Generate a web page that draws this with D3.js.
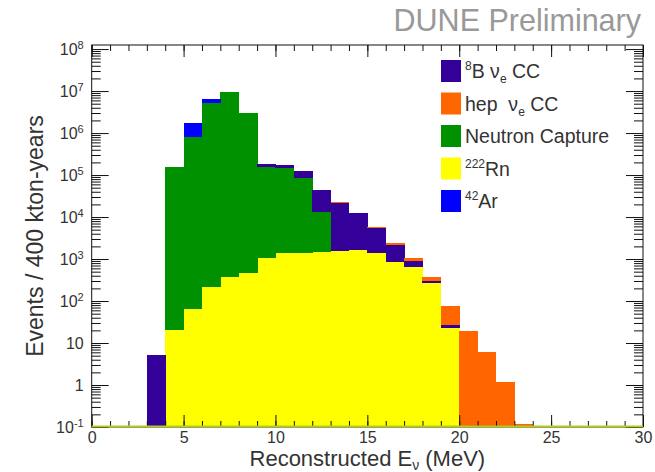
<!DOCTYPE html>
<html>
<head>
<meta charset="utf-8">
<script src="https://cdn.jsdelivr.net/npm/d3@7"></script>
<style>
  body { margin: 0; background: #fff; }
  svg { display: block; font-family: "Liberation Sans", Arial, Helvetica, sans-serif; }
</style>
</head>
<body>
<div id="chart"></div>
<script>
// lower edge of every 1 MeV bin
const binLow = [0,1,2,3,4,5,6,7,8,9,10,11,12,13,14,15,16,17,18,19,20,21,22,23,24,25,26,27,28,29];

// events / 400 kton-years per bin
const rn222   = [0,0,0,0,20,64,215,380,465,1060,1390,1430,1470,1550,1640,1370,860,630,265,23,0,0,0,0,0,0,0,0,0,0];
const neutron = [0,0,0,0,152000,790000,5100000,9300000,2940000,151000,143000,85000,11900,0,0,0,0,0,0,0,0,0,0,0,0,0,0,0,0,0];
const ar42    = [0,0,0,0,0,910000,1200000,0,0,0,0,0,0,0,0,0,0,0,0,0,0,0,0,0,0,0,0,0,0,0];
const b8      = [0,0,0,5.2,0,0,0,0,0,31000,32000,41000,30600,20500,10800,4050,1290,278,40,4.2,0,0,0,0,0,0,0,0,0,0];
const hep     = [0,0,0,0,0,0,0,0,0,0,0,0,0,150,200,250,220,128,75,47,19.6,6.2,1.2,0.115,0,0,0,0,0,0];

const xTicks = [0,5,10,15,20,25,30];
const yTicks = [0.1,1,10,100,1e3,1e4,1e5,1e6,1e7,1e8];

const W = 655, H = 472;
const pLeft = 91.7, pRight = 643, pTop = 45, pBottom = 427;

const svg = d3.select("#chart").append("svg")
  .attr("width", W).attr("height", H);

const x = d3.scaleLinear().domain([0, 30]).range([pLeft, pRight]);
const y = d3.scaleLog().domain([0.1, 1.25e8]).range([pBottom, pTop]);

// stack order: bottom to top
const keys = ["rn", "nc", "ar", "b8", "hep"];
const colors = { rn: "#ffff00", nc: "#009100", ar: "#0000ff", b8: "#330099", hep: "#ff6600" };

const rows = binLow.map((b, i) => ({
  bin: b, rn: rn222[i], nc: neutron[i], ar: ar42[i], b8: b8[i], hep: hep[i]
}));
const series = d3.stack().keys(keys)(rows);

svg.append("g").selectAll("g")
  .data(series)
  .join("g")
  .attr("fill", d => colors[d.key])
  .attr("shape-rendering", "crispEdges")
  .selectAll("rect")
  .data(d => d.filter(s => s[1] > s[0] && s[1] > 0.1))
  .join("rect")
  .attr("x", d => x(d.data.bin))
  .attr("width", d => x(d.data.bin + 1) - x(d.data.bin) + 0.5)
  .attr("y", d => y(d[1]))
  .attr("height", d => y(Math.max(d[0], 0.1)) - y(d[1]));

// minor ticks for the log axis
const yMinor = [];
yTicks.slice(0, -1).forEach(t => { for (let k = 2; k <= 9; k++) yMinor.push(t * k); });
const xMinor = d3.range(0, 31);

function clean(g) {
  g.select(".domain").remove();
  g.selectAll("line").attr("stroke", "#111");
}

// bottom axis
svg.append("g").attr("transform", `translate(0,${pBottom})`)
  .call(d3.axisBottom(x).tickValues(xMinor).tickSize(-6).tickFormat(""))
  .call(clean);
const xAx = svg.append("g").attr("transform", `translate(0,${pBottom})`)
  .call(d3.axisBottom(x).tickValues(xTicks).tickSize(-12).tickPadding(5).tickFormat(d3.format("d")))
  .call(clean);
xAx.selectAll("text").attr("font-size", 16).attr("fill", "#333").attr("dy", "0.71em")
  .attr("font-family", "Liberation Sans, Arial, sans-serif");

// top axis
svg.append("g").attr("transform", `translate(0,${pTop})`)
  .call(d3.axisTop(x).tickValues(xMinor).tickSize(-6).tickFormat(""))
  .call(clean);
svg.append("g").attr("transform", `translate(0,${pTop})`)
  .call(d3.axisTop(x).tickValues(xTicks).tickSize(-12).tickFormat(""))
  .call(clean);

// left axis
svg.append("g").attr("transform", `translate(${pLeft},0)`)
  .call(d3.axisLeft(y).tickValues(yMinor).tickSize(-9).tickFormat(""))
  .call(clean);
const yAx = svg.append("g").attr("transform", `translate(${pLeft},0)`)
  .call(d3.axisLeft(y).tickValues(yTicks).tickSize(-17).tickFormat(""))
  .call(clean);

yAx.selectAll(".tick").each(function(d) {
  const e = Math.round(Math.log10(d));
  const t = d3.select(this).select("text")
    .attr("x", -8).attr("dy", "0.35em").attr("text-anchor", "end")
    .attr("font-size", 16).attr("fill", "#333").text(null);
  if (e === 0) t.text("1");
  else if (e === 1) t.text("10");
  else {
    t.append("tspan").text("10");
    t.append("tspan").attr("dy", "-0.55em").attr("font-size", 11).text(e);
  }
});

// right axis
svg.append("g").attr("transform", `translate(${pRight},0)`)
  .call(d3.axisRight(y).tickValues(yMinor).tickSize(-9).tickFormat(""))
  .call(clean);
svg.append("g").attr("transform", `translate(${pRight},0)`)
  .call(d3.axisRight(y).tickValues(yTicks).tickSize(-17).tickFormat(""))
  .call(clean);

// frame
svg.append("rect")
  .attr("x", pLeft).attr("y", pTop)
  .attr("width", pRight - pLeft).attr("height", pBottom - pTop)
  .attr("fill", "none").attr("stroke", "#111").attr("stroke-width", 1);

// empty-bin outline along the floor
svg.append("line")
  .attr("x1", x(0)).attr("x2", x(30))
  .attr("y1", pBottom - 0.5).attr("y2", pBottom - 0.5)
  .attr("stroke", "#b4cc1e").attr("stroke-width", 2);

// axis titles
const xt = svg.append("text")
  .attr("x", (pLeft + pRight) / 2).attr("y", 466)
  .attr("text-anchor", "middle").attr("font-size", 22).attr("fill", "#333");
xt.append("tspan").text("Reconstructed E");
xt.append("tspan").attr("dy", 4).attr("font-size", 14).text("ν");
xt.append("tspan").attr("dy", -4).text(" (MeV)");

svg.append("text")
  .attr("transform", `translate(43,${(pTop + pBottom) / 2}) rotate(-90)`)
  .attr("text-anchor", "middle").attr("font-size", 23).attr("fill", "#333")
  .text("Events / 400 kton-years");

svg.append("text")
  .attr("x", 641).attr("y", 31)
  .attr("text-anchor", "end").attr("font-size", 30.5).attr("fill", "#999")
  .text("DUNE Preliminary");

// legend
const legendItems = [
  { key: "b8",  parts: [["8", "sup"], ["B ν"], ["e", "sub"], [" CC"]] },
  { key: "hep", parts: [["hep  ν"], ["e", "sub"], [" CC"]] },
  { key: "nc",  parts: [["Neutron Capture"]] },
  { key: "rn",  parts: [["222", "sup"], ["Rn"]] },
  { key: "ar",  parts: [["42", "sup"], ["Ar"]] }
];

const leg = svg.append("g").selectAll("g")
  .data(legendItems)
  .join("g")
  .attr("transform", (d, i) => `translate(441,${60 + i * 32.5})`);

leg.append("rect")
  .attr("width", 20).attr("height", 22)
  .attr("fill", d => colors[d.key]);

leg.append("text")
  .attr("x", 24).attr("y", 18)
  .attr("font-size", 19.5).attr("fill", "#333")
  .each(function(d) {
    const t = d3.select(this);
    let shift = 0;
    d.parts.forEach(p => {
      const want = p[1] === "sup" ? -8 : p[1] === "sub" ? 5 : 0;
      const s = t.append("tspan").attr("dy", want - shift).text(p[0].replace(/ /g, "\u00a0"));
      if (p[1]) s.attr("font-size", 12);
      shift = want;
    });
  });
</script>
</body>
</html>
